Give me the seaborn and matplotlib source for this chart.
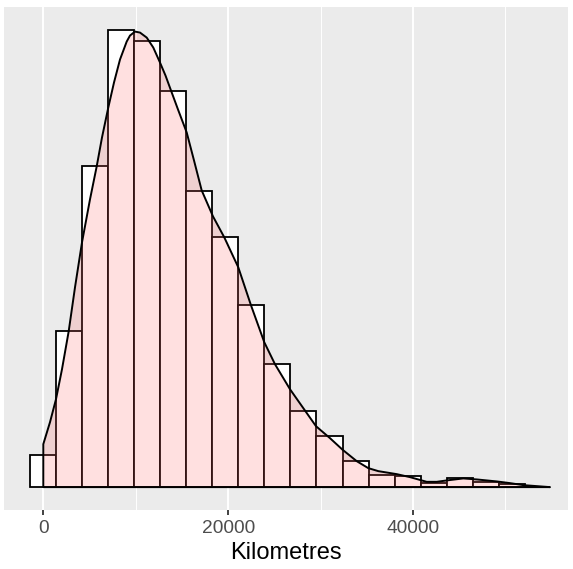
import numpy as np
import matplotlib
matplotlib.use('Agg')
import matplotlib.pyplot as plt
import seaborn as sns

# histogram bins (km) and bar heights (counts)
bin_width = 2815
bin_centers = [i * bin_width for i in range(19)]
counts = [32.6, 156, 321, 458, 446.7, 397, 296.7, 250, 182, 123,
          76, 51, 26, 12.6, 11.3, 4, 9, 5.6, 3]

# density curve, scaled to the same count units
dens_x = [0, 725, 1374, 2023, 2748, 3430, 4187, 5052, 5777, 6351,
          7032, 7649, 8298, 9023, 9380, 9921, 10462, 11187, 11901, 12626,
          13221, 13816, 14574, 15515, 16305, 17137, 18360, 19582, 21097, 22471,
          23910, 25068, 26690, 29503, 31018, 32370, 33907, 35162, 36244, 38234,
          39673, 41480, 42562, 43644, 45440, 46890, 49053, 50493, 51932, 53381,
          54820]
dens_y = [43, 65, 88, 118, 156, 200, 245, 288, 321, 350,
          380, 405, 428, 446, 452, 456, 455, 450, 440, 425,
          412, 397, 378, 355, 327, 297, 271, 250, 220, 182,
          145, 123, 98, 61, 49, 37.5, 26, 19, 16, 13,
          10, 5.3, 5.3, 6.7, 8.7, 7.7, 5.7, 4, 2, 1,
          0]

x_ticks = [0, 20000, 40000]
x_minor = [10000, 30000, 50000]

W, H = 573, 569
fig = plt.figure(figsize=(W / 100, H / 100), dpi=100)
ax = fig.add_axes([4.3 / W, (H - 510) / H, (568 - 4.3) / W, (510 - 6.7) / H])
ax.set_facecolor('#EBEBEB')
for s in ax.spines.values():
    s.set_visible(False)

edges = [c - bin_width / 2 for c in bin_centers] + [bin_centers[-1] + bin_width / 2]
sns.histplot(x=bin_centers, weights=counts, bins=edges, ax=ax,
             color='white', alpha=1, edgecolor='black', linewidth=1.3, zorder=2)

px = [dens_x[0]] + dens_x + [dens_x[0]]
py = [0] + dens_y + [0]
ax.fill(px, py, facecolor=(1, 0.4, 0.4, 0.2), edgecolor='black', linewidth=1.4,
        joinstyle='round', zorder=3)

ax.set_xlim(-4219, 56768)
ax.set_ylim(-22.9, 480.9)
ax.set_xticks(x_ticks)
ax.set_xticklabels([str(t) for t in x_ticks])
ax.set_xticks(x_minor, minor=True)
ax.set_yticks([])
ax.set_ylabel('')
ax.grid(True, which='major', axis='x', color='white', linewidth=1.4, zorder=0)
ax.grid(True, which='minor', axis='x', color='white', linewidth=0.7, zorder=0)
ax.set_axisbelow(True)
ax.tick_params(axis='x', which='major', length=3.6, width=1.3, color='#333333',
               labelsize=13.8, labelcolor='#4D4D4D', pad=3.5)
ax.tick_params(axis='x', which='minor', length=0)
for lab in ax.get_xticklabels():
    lab.set_family(['Liberation Sans', 'DejaVu Sans'])
ax.set_xlabel('Kilometres', fontsize=17, family=['Liberation Sans', 'DejaVu Sans'],
              color='black', labelpad=3.5)

fig.savefig('out.png', dpi=100)
